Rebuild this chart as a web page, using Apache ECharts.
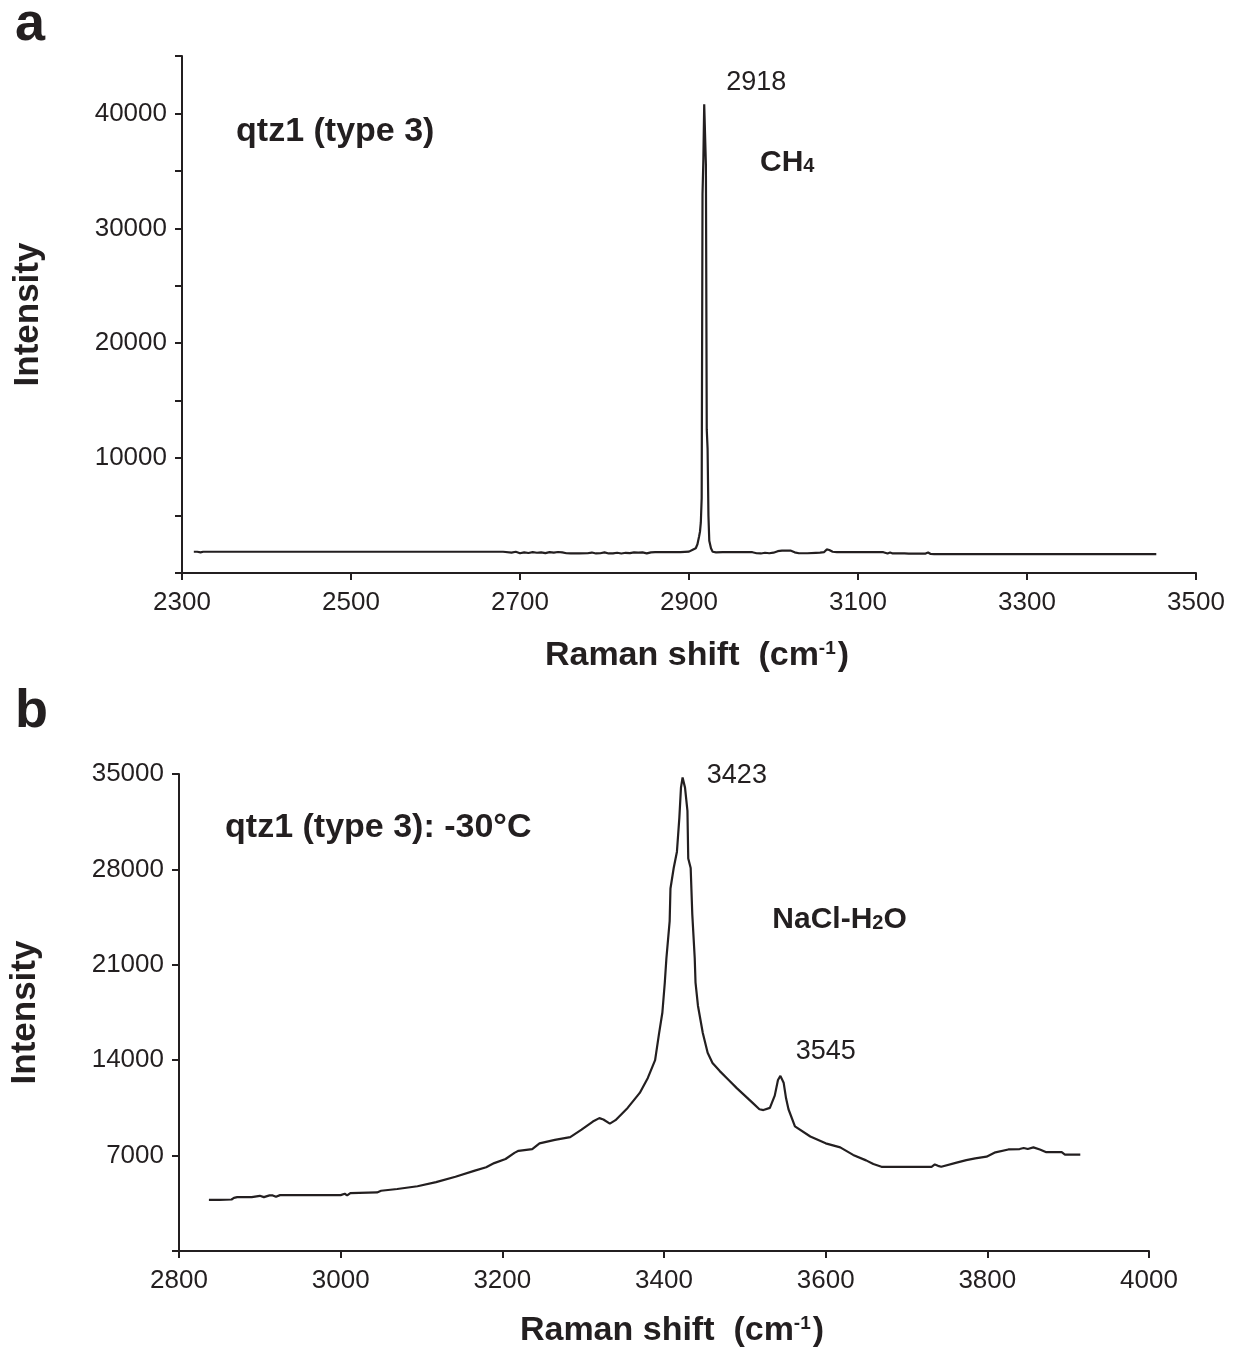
<!DOCTYPE html>
<html>
<head>
<meta charset="utf-8">
<script src="https://cdn.jsdelivr.net/npm/echarts@6/dist/echarts.min.js"></script>
<style>
html,body{margin:0;padding:0;background:#fff;}
#chart{width:1239px;height:1354px;}
</style>
</head>
<body>
<div id="chart"></div>
<script>
// ---------- Panel a: qtz1 (type 3), CH4 ----------
const shiftA = [2314, 2318, 2320, 2322, 2325, 2400, 2500, 2600, 2680, 2690, 2695, 2700, 2705, 2710, 2715, 2720, 2725, 2730, 2735, 2740, 2745, 2750, 2755, 2760, 2770, 2780, 2785, 2790, 2795, 2800, 2805, 2810, 2815, 2820, 2825, 2830, 2835, 2840, 2845, 2850, 2855, 2860, 2870, 2880, 2890, 2900, 2905, 2908, 2910, 2912, 2913, 2914, 2915, 2916, 2917, 2918, 2919, 2920, 2921, 2922, 2923, 2924, 2926, 2928, 2932, 2940, 2960, 2975, 2980, 2985, 2990, 2995, 3000, 3005, 3010, 3020, 3025, 3030, 3040, 3050, 3055, 3060, 3063, 3066, 3070, 3075, 3100, 3130, 3135, 3138, 3141, 3150, 3155, 3157, 3160, 3180, 3183, 3186, 3190, 3300, 3400, 3453];
const intensityA = [1850, 1850, 1720, 1800, 1850, 1850, 1850, 1850, 1850, 1780, 1850, 1720, 1800, 1740, 1810, 1760, 1800, 1730, 1820, 1770, 1830, 1790, 1720, 1700, 1700, 1720, 1780, 1700, 1720, 1790, 1700, 1710, 1760, 1700, 1760, 1730, 1790, 1780, 1790, 1710, 1800, 1810, 1810, 1820, 1820, 1860, 2050, 2150, 2500, 3200, 3600, 4400, 6500, 33000, 36000, 40800, 40800, 35500, 12500, 10800, 5000, 2800, 2150, 1850, 1800, 1810, 1810, 1810, 1720, 1700, 1760, 1720, 1770, 1900, 1950, 1950, 1800, 1720, 1720, 1760, 1780, 1820, 2050, 2000, 1850, 1810, 1810, 1810, 1700, 1780, 1700, 1700, 1700, 1780, 1690, 1690, 1790, 1660, 1650, 1650, 1650, 1650];
const xTicksA = [2300, 2500, 2700, 2900, 3100, 3300, 3500];
const yTicksA = [10000, 20000, 30000, 40000];

// ---------- Panel b: qtz1 (type 3) at -30 °C, NaCl-H2O ----------
const shiftB = [2837, 2850, 2865, 2868, 2872, 2890, 2900, 2905, 2912, 2916, 2920, 2925, 2950, 3000, 3005, 3008, 3012, 3045, 3050, 3070, 3095, 3118, 3142, 3166, 3180, 3190, 3204, 3215, 3220, 3237, 3246, 3265, 3284, 3298, 3312, 3320, 3325, 3333, 3340, 3355, 3370, 3380, 3389, 3394, 3398, 3401, 3403, 3407, 3408, 3412, 3416, 3419, 3421, 3423, 3426, 3429, 3430, 3433, 3435, 3438, 3439, 3442, 3448, 3454, 3460, 3469, 3480, 3490, 3500, 3510, 3518, 3523, 3531, 3537, 3541, 3544, 3546, 3548, 3551, 3554, 3562, 3581, 3600, 3618, 3634, 3650, 3659, 3669, 3700, 3731, 3735, 3739, 3743, 3762, 3774, 3785, 3799, 3810, 3826, 3840, 3845, 3850, 3857, 3865, 3873, 3892, 3896, 3915];
const intensityB = [3750, 3750, 3780, 3900, 3950, 3950, 4050, 3950, 4080, 4080, 3980, 4100, 4100, 4100, 4200, 4080, 4250, 4300, 4420, 4550, 4750, 5050, 5450, 5900, 6150, 6450, 6750, 7200, 7350, 7480, 7900, 8150, 8350, 8900, 9500, 9750, 9650, 9350, 9600, 10500, 11600, 12700, 14000, 16000, 17500, 19700, 21500, 24200, 26600, 28100, 29300, 31800, 34000, 34750, 34000, 32300, 28800, 28100, 24700, 21500, 19700, 18000, 16000, 14550, 13800, 13200, 12550, 11950, 11400, 10850, 10400, 10340, 10500, 11400, 12550, 12850, 12850, 12350, 11200, 10400, 9150, 8400, 7900, 7600, 7050, 6650, 6380, 6180, 6180, 6180, 6350, 6250, 6180, 6480, 6670, 6800, 6920, 7240, 7450, 7480, 7560, 7480, 7600, 7450, 7250, 7250, 7070, 7070];
const xTicksB = [2800, 3000, 3200, 3400, 3600, 3800, 4000];
const yTicksB = [7000, 14000, 21000, 28000, 35000];

// ---------- Texts ----------
const panelLabels = ['a', 'b'];
const sampleA = 'qtz1 (type 3)';
const sampleB = 'qtz1 (type 3): -30°C';
const peakLabelsA = ['2918'];
const peakLabelsB = ['3423', '3545'];

const INK = '#231f20';
const FONT = "'Liberation Sans', Arial, Helvetica, sans-serif";

const pairs = (xs, ys) => xs.map((x, i) => [x, ys[i]]);

function xAxisCfg(gridIndex, ticks, gap) {
  return {
    type: 'value', gridIndex,
    min: ticks[0], max: ticks[ticks.length - 1], interval: ticks[1] - ticks[0],
    axisLine: { show: true, onZero: false, lineStyle: { color: INK, width: 2 } },
    axisTick: { show: true, inside: false, length: 7, lineStyle: { color: INK, width: 2 } },
    axisLabel: { color: INK, fontFamily: FONT, fontSize: 26, margin: 17, formatter: v => String(v) },
    splitLine: { show: false },
    name: '{b|Raman shift  (cm}{s|-1}{b|)}',
    nameLocation: 'middle', nameGap: gap,
    nameTextStyle: {
      color: INK, fontFamily: FONT, padding: [0, 0, 0, 16],
      rich: {
        b: { fontSize: 34, fontWeight: 'bold', fontFamily: FONT, color: INK },
        s: { fontSize: 19, fontWeight: 'bold', fontFamily: FONT, color: INK, verticalAlign: 'top', padding: [0, 2, 0, 0] }
      }
    }
  };
}

function yAxisCfg(gridIndex, labelTicks, max, interval) {
  return {
    type: 'value', gridIndex, min: 0, max, interval,
    axisLine: { show: true, onZero: false, lineStyle: { color: INK, width: 2 } },
    axisTick: { show: true, inside: false, length: 7, lineStyle: { color: INK, width: 2 } },
    axisLabel: {
      color: INK, fontFamily: FONT, fontSize: 26, margin: 15,
      formatter: v => (labelTicks.indexOf(v) >= 0 ? String(v) : '')
    },
    splitLine: { show: false },
    name: 'Intensity', nameLocation: 'middle', nameGap: 136, nameRotate: 90,
    nameTextStyle: { color: INK, fontFamily: FONT, fontSize: 35, fontWeight: 'bold' }
  };
}

function annot(coord, text, rich) {
  return {
    coord, value: 0,
    label: { show: true, position: 'right', distance: 0, formatter: text, rich: rich || {} }
  };
}

const labelBase = { color: INK, fontFamily: FONT };
const richCommon = {
  bb: { fontSize: 30, fontWeight: 'bold', fontFamily: FONT, color: INK, verticalAlign: 'bottom' },
  sub: { fontSize: 20, fontWeight: 'bold', fontFamily: FONT, color: INK, verticalAlign: 'bottom', padding: [0, 0, 1, 0] },
  big: { fontSize: 34, fontWeight: 'bold', fontFamily: FONT, color: INK },
  num: { fontSize: 27, fontFamily: FONT, color: INK }
};

const option = {
  animation: false,
  backgroundColor: '#ffffff',
  title: [
    { text: panelLabels[0], left: 10, top: -7, textStyle: { fontFamily: FONT, fontSize: 54, fontWeight: 'bold', color: INK } },
    { text: panelLabels[1], left: 10, top: 680, textStyle: { fontFamily: FONT, fontSize: 54, fontWeight: 'bold', color: INK } }
  ],
  grid: [
    { left: 182, top: 56, width: 1014, height: 517 },
    { left: 179, top: 774, width: 970, height: 477 }
  ],
  xAxis: [xAxisCfg(0, xTicksA, 66), xAxisCfg(1, xTicksB, 63)],
  yAxis: [yAxisCfg(0, yTicksA, 45000, 5000), yAxisCfg(1, yTicksB, 35000, 7000)],
  series: [
    {
      type: 'line', xAxisIndex: 0, yAxisIndex: 0,
      data: pairs(shiftA, intensityA),
      showSymbol: false, symbol: 'none',
      lineStyle: { color: INK, width: 2.2 },
      markPoint: {
        symbol: 'circle', symbolSize: 0, itemStyle: { color: 'rgba(0,0,0,0)' },
        label: labelBase,
        data: [
          annot([2944, 42700], '{num|' + peakLabelsA[0] + '}', richCommon),
          annot([2984, 35700], '{bb|CH}{sub|4}', richCommon),
          annot([2364, 38450], '{big|' + sampleA + '}', richCommon)
        ]
      }
    },
    {
      type: 'line', xAxisIndex: 1, yAxisIndex: 1,
      data: pairs(shiftB, intensityB),
      showSymbol: false, symbol: 'none',
      lineStyle: { color: INK, width: 2.2 },
      markPoint: {
        symbol: 'circle', symbolSize: 0, itemStyle: { color: 'rgba(0,0,0,0)' },
        label: labelBase,
        data: [
          annot([3453, 34900], '{num|' + peakLabelsB[0] + '}', richCommon),
          annot([3534, 24300], '{bb|NaCl-H}{sub|2}{bb|O}', richCommon),
          annot([3563, 14620], '{num|' + peakLabelsB[1] + '}', richCommon),
          annot([2857, 31060], '{big|' + sampleB + '}', richCommon)
        ]
      }
    }
  ]
};

const chart = echarts.init(document.getElementById('chart'), null, { renderer: 'canvas' });
chart.setOption(option);
</script>
</body>
</html>
